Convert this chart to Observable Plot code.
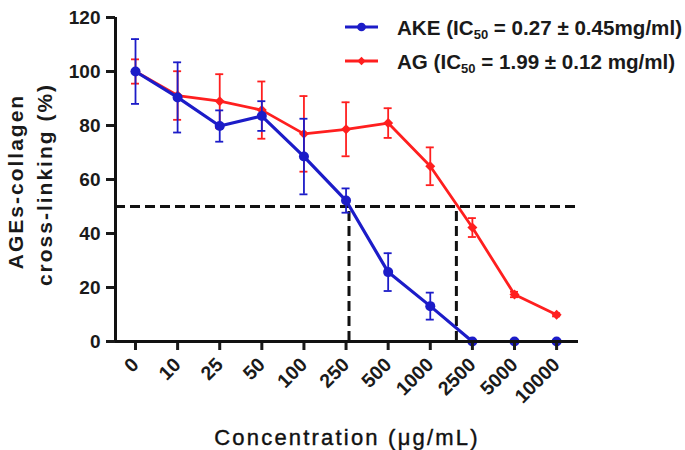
<!DOCTYPE html>
<html><head><meta charset="utf-8">
<script src="https://cdn.jsdelivr.net/npm/d3@7"></script>
<script src="https://cdn.jsdelivr.net/npm/@observablehq/plot@0.6"></script>
<style>
body{margin:0;background:#fff;}
#wrap{position:relative;width:685px;height:450px;}
#legend{position:absolute;left:0;top:0;pointer-events:none;}
</style></head><body><div id="wrap"></div>
<script>
// ---- data ----
const concentrations = ["0","10","25","50","100","250","500","1000","2500","5000","10000"];
const akeMean = [100, 90.4, 79.8, 83.5, 68.5, 52.2, 25.7, 13.1, 0, 0, 0];
const akeErr  = [12, 13, 5.8, 5.5, 14, 4.5, 7, 5, 0, 0, 0];
const agMean  = [100, 91.1, 89, 85.7, 76.9, 78.6, 80.9, 64.9, 42.2, 17.4, 9.9];
const agErr   = [4.5, 9, 10, 10.6, 14, 10, 5.5, 7, 3.5, 1, 0.6];
const seriesNames = ["AG", "AKE"];           // drawing order (AKE on top)
const seriesColors = ["#ff1f1f", "#1c1cc8"];
const ic50Level = 50;
const ic50Index = [5.07, 7.62];               // where each curve crosses 50 % (axis position)
const yTicks = [0, 20, 40, 60, 80, 100, 120];
const yTitle = ["AGEs-collagen", "cross-linking (%)"];
const xTitle = "Concentration (μg/mL)";
const legendItems = [
  {series: "AKE", parts: ["AKE (IC", "50", " = 0.27 ± 0.45mg/ml)"]},
  {series: "AG",  parts: ["AG (IC", "50", " = 1.99 ± 0.12 mg/ml)"]}
];

// ---- table ----
const rows = [];
concentrations.forEach((c, i) => {
  rows.push({series: "AG", i, c, mean: agMean[i], err: agErr[i]});
});
concentrations.forEach((c, i) => {
  rows.push({series: "AKE", i, c, mean: akeMean[i], err: akeErr[i]});
});
const errRows = rows.filter(d => d.err > 0);
const xDomain = [-0.475, concentrations.length - 1 + 0.52];
const capHalf = 0.095;
const color = s => seriesColors[seriesNames.indexOf(s)];
const font = "'Liberation Sans', Arial, sans-serif";

const chart = Plot.plot({
  width: 685, height: 450,
  marginLeft: 115, marginRight: 107, marginTop: 17, marginBottom: 109,
  x: {type: "linear", domain: xDomain},
  y: {domain: [0, 120]},
  color: {domain: seriesNames, range: seriesColors},
  style: {fontFamily: font, fontWeight: "bold", fontSize: "19px", color: "#1a1a1a", background: "#fff"},
  marks: [
    // IC50 guides
    Plot.ruleY([ic50Level], {x1: xDomain[0], x2: xDomain[1], stroke: "#111", strokeWidth: 3, strokeDasharray: "10,5"}),
    Plot.ruleX(ic50Index, {x: d => d, y1: 0, y2: ic50Level, stroke: "#111", strokeWidth: 3, strokeDasharray: "10,5"}),
    // series, AG first then AKE
    ...seriesNames.map(s => {
      const r = rows.filter(d => d.series === s);
      const e = errRows.filter(d => d.series === s);
      const col = color(s);
      return [
        Plot.ruleX(e, {x: "i", y1: d => d.mean - d.err, y2: d => d.mean + d.err, stroke: col, strokeWidth: 1.8}),
        Plot.ruleY(e, {y: d => d.mean + d.err, x1: d => d.i - capHalf, x2: d => d.i + capHalf, stroke: col, strokeWidth: 1.8}),
        Plot.ruleY(e, {y: d => d.mean - d.err, x1: d => d.i - capHalf, x2: d => d.i + capHalf, stroke: col, strokeWidth: 1.8}),
        Plot.line(r, {x: "i", y: "mean", stroke: col, strokeWidth: s === "AKE" ? 3.2 : 2.8}),
        Plot.dot(r, {x: "i", y: "mean", fill: col, stroke: "none",
          symbol: s === "AKE" ? "circle" : "diamond2", r: s === "AKE" ? 5 : 4.5})
      ];
    }),
    // axes
    Plot.axisY({ticks: yTicks, tickSize: 9, tickPadding: 6, strokeWidth: 3, label: null,
      fontSize: 19, fontWeight: "bold", fill: "#1a1a1a"}),
    Plot.axisX({ticks: d3.range(concentrations.length), tickFormat: i => concentrations[i],
      tickRotate: -45, textAnchor: "end", lineAnchor: "middle", tickSize: 9, tickPadding: 11,
      strokeWidth: 3, label: null, fontSize: 19.5, fontWeight: "bold", fill: "#1a1a1a"}),
    Plot.ruleX([xDomain[0]], {y1: 0, y2: 120, stroke: "#111", strokeWidth: 3}),
    Plot.ruleY([0], {x1: xDomain[0], x2: xDomain[1], stroke: "#111", strokeWidth: 3}),
    // titles
    Plot.text([yTitle[0]], {text: d => d, frameAnchor: "left", textAnchor: "middle", rotate: -90, dx: -93, dy: 2,
      lineAnchor: "bottom", fontSize: 21, fontWeight: "bold", fill: "#1a1a1a"}),
    Plot.text([yTitle[1]], {text: d => d, frameAnchor: "left", textAnchor: "middle", rotate: -90, dx: -64, dy: 5,
      lineAnchor: "bottom", fontSize: 21, fontWeight: "bold", fill: "#1a1a1a"}),
    Plot.text([xTitle], {text: d => d, frameAnchor: "bottom", textAnchor: "middle", dy: 103, lineAnchor: "bottom",
      fontSize: 22, fontWeight: "normal", fill: "#111"})
  ]
});
document.getElementById("wrap").appendChild(chart);

// letter spacing for the titles
d3.select(chart).selectAll("text").each(function() {
  const t = this.textContent;
  if (yTitle.includes(t)) d3.select(this).attr("letter-spacing", "2px");
  if (t === xTitle) d3.select(this).attr("letter-spacing", "2.2px").attr("stroke", "#111").attr("stroke-width", 0.4);
});

// ---- legend overlay ----
const leg = d3.select("#wrap").append("svg").attr("id", "legend")
  .attr("width", 685).attr("height", 450);
legendItems.forEach((item, k) => {
  const cy = 27 + k * 34;
  const col = color(item.series);
  const g = leg.append("g");
  g.append("line").attr("x1", 345).attr("x2", 378).attr("y1", cy).attr("y2", cy)
    .attr("stroke", col).attr("stroke-width", item.series === "AKE" ? 3.2 : 2.8);
  const sym = d3.symbol().type(item.series === "AKE" ? d3.symbolCircle : d3.symbolDiamond2)
    .size(item.series === "AKE" ? 60 : 45);
  g.append("path").attr("d", sym()).attr("transform", `translate(361.5,${cy})`).attr("fill", col);
  const t = g.append("text").attr("x", 397).attr("y", cy + 8)
    .attr("font-family", font).attr("font-weight", "bold").attr("font-size", 20.6).attr("fill", "#1a1a1a");
  t.append("tspan").text(item.parts[0]);
  t.append("tspan").attr("font-size", 13).attr("dy", 4).text(item.parts[1]);
  t.append("tspan").attr("dy", -4).text(item.parts[2]);
});
</script></body></html>
